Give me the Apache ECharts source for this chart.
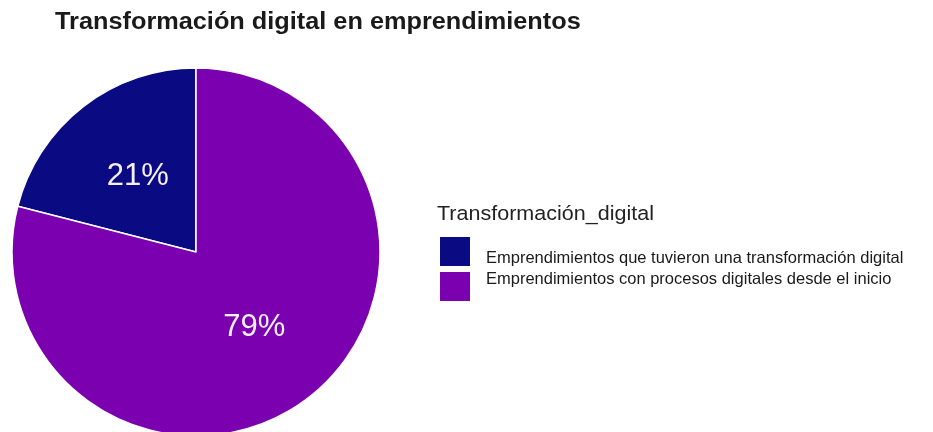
<!DOCTYPE html>
<html>
<head>
<meta charset="utf-8">
<script src="https://cdn.jsdelivr.net/npm/echarts@6/dist/echarts.min.js"></script>
<style>
  html, body { margin: 0; padding: 0; background: #fff; }
  #chart { width: 933px; height: 432px; }
</style>
</head>
<body>
<div id="chart"></div>
<script>
// Share of ventures by digital origin
const categories = [
  'Emprendimientos que tuvieron una transformación digital',
  'Emprendimientos con procesos digitales desde el inicio'
];
const values = [21, 79];
const colors = ['#0a0a82', '#7a00b0'];
const chartTitle = 'Transformación digital en emprendimientos';
const legendTitle = 'Transformación_digital';

const chart = echarts.init(document.getElementById('chart'));
const font = 'Liberation Sans, Arial, sans-serif';

chart.setOption({
  animation: false,
  backgroundColor: '#ffffff',
  graphic: [
    {
      type: 'text',
      x: 55, y: 23, scaleX: 1.15, scaleY: 1.05,
      style: {
        text: chartTitle,
        font: 'bold 22px ' + font,
        fill: '#1a1a1a',
        textVerticalAlign: 'middle'
      }
    },
    {
      type: 'text',
      x: 437, y: 214, scaleX: 1.05, scaleY: 1,
      style: {
        text: legendTitle,
        font: '20.5px ' + font,
        fill: '#222222',
        textVerticalAlign: 'middle'
      }
    }
  ],
  legend: {
    orient: 'vertical',
    left: 438, top: 235,
    padding: 0,
    itemWidth: 32, itemHeight: 31, itemGap: 2,
    icon: 'rect',
    data: categories,
    // labels sit slightly inward from their swatches
    formatter: name => (name === categories[0] ? '{lo|' : '{hi|') + name + '}',
    textStyle: {
      fontFamily: font, fontSize: 16.5, color: '#1a1a1a', padding: [0, 0, 0, 10],
      rich: {
        lo: { fontFamily: font, fontSize: 16.5, color: '#1a1a1a', padding: [14, 0, 0, 0] },
        hi: { fontFamily: font, fontSize: 16.5, color: '#1a1a1a', padding: [0, 0, 14, 0] }
      }
    }
  },
  series: [{
    type: 'pie',
    center: [196, 252],
    radius: 184,
    startAngle: 90,
    clockwise: false,
    label: {
      show: true,
      position: 'inside',
      formatter: '{c}%',
      fontFamily: font,
      fontSize: 31,
      color: '#f6f0fc'
    },
    labelLine: { show: false },
    itemStyle: { borderColor: '#ffffff', borderWidth: 1.5 },
    emphasis: { disabled: true },
    data: categories.map((name, i) => ({
      name: name,
      value: values[i],
      itemStyle: { color: colors[i] }
    }))
  }]
});
</script>
</body>
</html>
